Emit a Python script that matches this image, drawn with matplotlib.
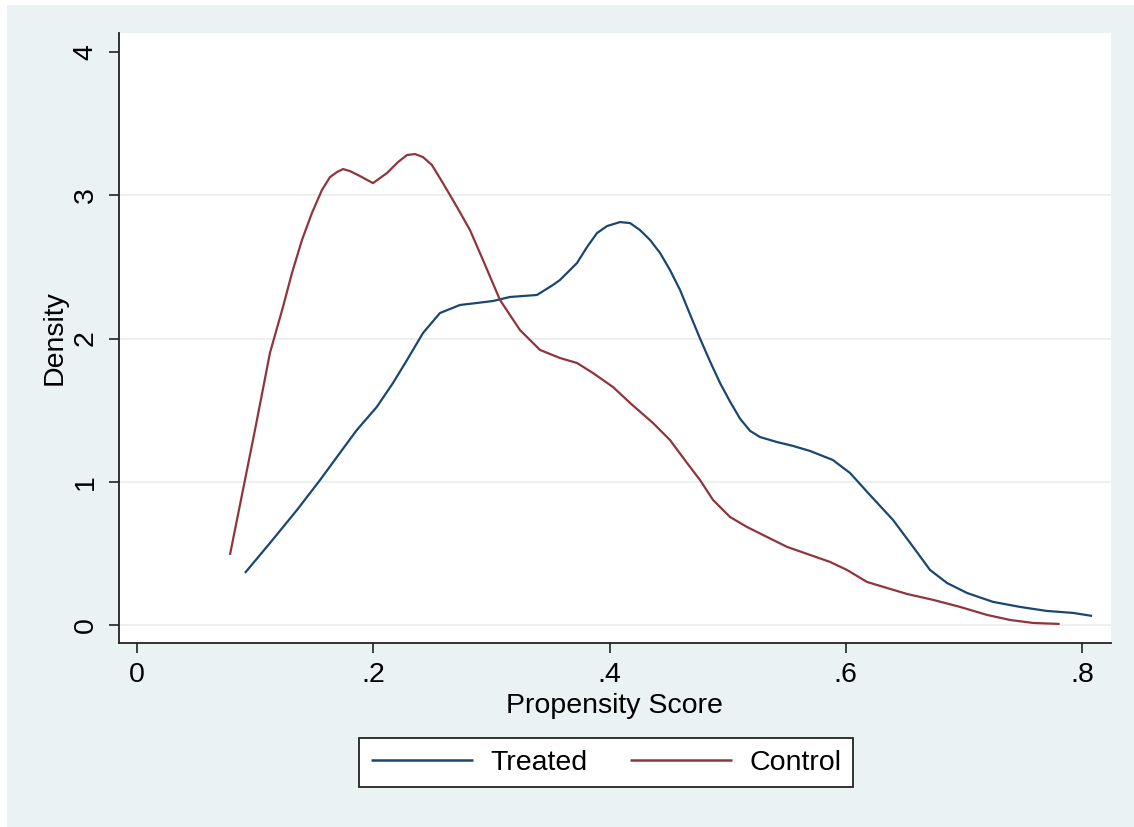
import matplotlib
matplotlib.use("Agg")
import matplotlib.pyplot as plt
from matplotlib.patches import Rectangle

plt.rcParams['font.family'] = ['Liberation Sans', 'DejaVu Sans']

# Kernel density curves (x = propensity score, y = density)
treated_x = [0.0914, 0.1126, 0.1355, 0.155, 0.1693, 0.186, 0.203, 0.2167, 0.2286,
             0.2421, 0.2565, 0.2734, 0.2878, 0.3014, 0.3158, 0.3386, 0.352, 0.358,
             0.3725, 0.381, 0.3894, 0.3979, 0.4089, 0.4174, 0.4258, 0.4343, 0.4428,
             0.4512, 0.4597, 0.4681, 0.4766, 0.4851, 0.4935, 0.502, 0.5105, 0.519,
             0.5274, 0.5418, 0.5553, 0.5697, 0.589, 0.6036, 0.6205, 0.64, 0.657,
             0.6713, 0.6857, 0.7027, 0.7247, 0.7475, 0.770, 0.7924, 0.8085]
treated_y = [0.363, 0.572, 0.803, 1.012, 1.173, 1.36, 1.522, 1.689, 1.85,
             2.038, 2.178, 2.234, 2.248, 2.262, 2.29, 2.304, 2.373, 2.408,
             2.527, 2.639, 2.736, 2.785, 2.813, 2.806, 2.757, 2.688, 2.597,
             2.478, 2.339, 2.17, 2.0, 1.84, 1.69, 1.56, 1.44, 1.355,
             1.312, 1.277, 1.25, 1.215, 1.152, 1.061, 0.907, 0.733, 0.545,
             0.384, 0.293, 0.223, 0.161, 0.126, 0.098, 0.084, 0.063]

control_x = [0.0787, 0.0999, 0.1126, 0.1236, 0.1312, 0.1397, 0.1481, 0.1566, 0.1634,
             0.1693, 0.1744, 0.1803, 0.1888, 0.1998, 0.2116, 0.221, 0.2286, 0.2353,
             0.2421, 0.2497, 0.259, 0.2709, 0.2819, 0.2929, 0.3073, 0.3242, 0.3412,
             0.358, 0.3725, 0.386, 0.403, 0.4174, 0.4368, 0.4512, 0.4656, 0.4766,
             0.4876, 0.502, 0.5164, 0.530, 0.5503, 0.5697, 0.5867, 0.601, 0.618,
             0.635, 0.652, 0.674, 0.6967, 0.7196, 0.739, 0.7585, 0.781]
control_y = [0.489, 1.361, 1.90, 2.22, 2.457, 2.688, 2.876, 3.037, 3.127,
             3.162, 3.183, 3.169, 3.134, 3.085, 3.155, 3.232, 3.281, 3.288,
             3.267, 3.211, 3.085, 2.918, 2.757, 2.548, 2.269, 2.059, 1.92,
             1.864, 1.829, 1.759, 1.661, 1.55, 1.41, 1.291, 1.131, 1.012,
             0.873, 0.754, 0.684, 0.628, 0.545, 0.489, 0.44, 0.384, 0.30,
             0.258, 0.216, 0.175, 0.126, 0.07, 0.035, 0.014, 0.007]

x_ticks = [0, 0.2, 0.4, 0.6, 0.8]
x_tick_labels = ["0", ".2", ".4", ".6", ".8"]
y_ticks = [0, 1, 2, 3, 4]
y_tick_labels = ["0", "1", "2", "3", "4"]
grid_values = [0, 1, 2, 3]
series_labels = ["Treated", "Control"]

W, H = 1134, 827
fig = plt.figure(figsize=(W / 100, H / 100), dpi=100, facecolor='white')
bg = '#EAF2F3'
fig.patches.append(Rectangle((7 / W, 0), 1 - 7 / W, 1 - 5 / H, transform=fig.transFigure,
                             facecolor=bg, edgecolor='none', zorder=-10))

ax = fig.add_axes([119 / W, 1 - 643 / H, (1111 - 119) / W, (643 - 33) / H])
ax.set_facecolor('white')

for g in grid_values:
    ax.axhline(g, color='#e9eeef', lw=1.2, zorder=1)

navy = '#1a476f'
maroon = '#90353b'
l1, = ax.plot(treated_x, treated_y, color=navy, lw=1.6, zorder=3,
              solid_capstyle='butt', solid_joinstyle='round')
l2, = ax.plot(control_x, control_y, color=maroon, lw=1.6, zorder=3,
              solid_capstyle='butt', solid_joinstyle='round')

ax.set_xlim(-0.0152, 0.8245)
ax.set_ylim(-0.126, 4.133)

for s in ['top', 'right']:
    ax.spines[s].set_visible(False)
for s in ['left', 'bottom']:
    ax.spines[s].set_color('#222222')
    ax.spines[s].set_linewidth(1.3)

fs = 20.5
ax.set_xticks(x_ticks)
ax.set_xticklabels(x_tick_labels, fontsize=fs)
ax.set_yticks(y_ticks)
ax.set_yticklabels(y_tick_labels, fontsize=fs, rotation=90, va='center')
ax.tick_params(axis='both', direction='out', length=7.5, width=1.2, color='#222222')
ax.tick_params(axis='x', pad=6)
ax.tick_params(axis='y', pad=7)

fig.text(614 / W, 1 - 706 / H, "Propensity Score", fontsize=fs, ha='center', va='center')
fig.text(55 / W, 1 - 338 / H, "Density", fontsize=fs, ha='center', va='center', rotation=90)

leg = fig.legend([l1, l2], series_labels, loc='center', bbox_to_anchor=(606 / W, 1 - 762.5 / H),
                 ncol=2, fontsize=fs, frameon=True, fancybox=False, shadow=False,
                 framealpha=1, edgecolor='#222222', handlelength=3.6, handletextpad=0.6,
                 columnspacing=1.5, borderpad=0.4, borderaxespad=0)
leg.get_frame().set_linewidth(1.3)
for h in leg.legend_handles:
    h.set_linewidth(1.8)

fig.savefig('out.png', dpi=100, facecolor=fig.get_facecolor())
